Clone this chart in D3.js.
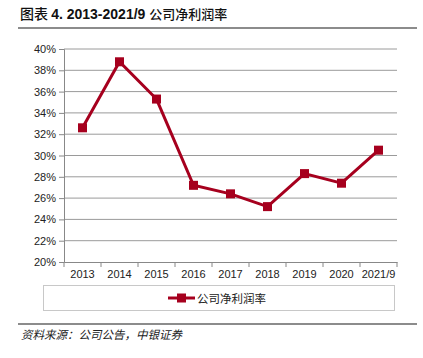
<!DOCTYPE html>
<html>
<head>
<meta charset="utf-8">
<script src="https://cdn.jsdelivr.net/npm/d3@7"></script>
<style>
  body { margin: 0; background: #fff; }
  svg { display: block; font-family: "Liberation Sans", Arial, sans-serif; }
</style>
</head>
<body>
<svg id="chart" width="423" height="358"></svg>
<script>
const years = ["2013", "2014", "2015", "2016", "2017", "2018", "2019", "2020", "2021/9"];
const netMargin = [32.6, 38.8, 35.3, 27.2, 26.4, 25.2, 28.3, 27.4, 30.5];
const yTicks = [20, 22, 24, 26, 28, 30, 32, 34, 36, 38, 40];

const svg = d3.select("#chart");
const red = "#A6001E";
const cjk = "'Noto Sans CJK SC', sans-serif";

// title
svg.append("text")
  .attr("x", 20).attr("y", 19)
  .attr("font-size", 14).attr("fill", "#111")
  .call(t => {
    t.append("tspan").attr("font-family", cjk).attr("font-weight", "500").text("图表 ");
    t.append("tspan").attr("font-weight", "bold").text("4. 2013-2021/9 ");
    t.append("tspan").attr("font-family", cjk).attr("font-weight", "500").attr("font-size", 13).text("公司净利润率");
  });

svg.append("line")
  .attr("x1", 18).attr("x2", 417).attr("y1", 28).attr("y2", 28)
  .attr("stroke", "#8c8c8c").attr("stroke-width", 2);

const x = d3.scaleBand().domain(years).range([64, 397]);
const y = d3.scaleLinear().domain([20, 40]).range([262, 49]);

// gridlines
svg.append("g")
  .selectAll("line")
  .data(yTicks.slice(1))
  .join("line")
  .attr("x1", 64).attr("x2", 397)
  .attr("y1", d => y(d)).attr("y2", d => y(d))
  .attr("stroke", "#9a9a9a").attr("stroke-width", 1);

const yAxis = svg.append("g")
  .attr("transform", "translate(64,0)")
  .call(d3.axisLeft(y).tickValues(yTicks).tickFormat(d => d + "%").tickSize(5).tickPadding(3));
yAxis.select(".domain").attr("stroke", "#888");
yAxis.selectAll(".tick line").attr("stroke", "#888");
yAxis.selectAll("text").attr("font-size", 11).attr("fill", "#222")
  .attr("font-family", "'Liberation Sans', Arial, sans-serif");

const xAxis = svg.append("g")
  .attr("transform", "translate(0,262)")
  .call(d3.axisBottom(x).tickSize(0).tickPadding(8));
xAxis.select(".domain").attr("stroke", "#888");
xAxis.selectAll("text").attr("font-size", 11).attr("fill", "#222")
  .attr("font-family", "'Liberation Sans', Arial, sans-serif");
// tick marks between categories
svg.append("g")
  .selectAll("line")
  .data(years.concat(["end"]))
  .join("line")
  .attr("x1", (d, i) => 64 + i * x.step()).attr("x2", (d, i) => 64 + i * x.step())
  .attr("y1", 262).attr("y2", 267)
  .attr("stroke", "#888");

// series line
const pts = years.map((d, i) => [x(d) + x.bandwidth() / 2, y(netMargin[i])]);
svg.append("path")
  .attr("d", d3.line()(pts))
  .attr("fill", "none").attr("stroke", red).attr("stroke-width", 3);

svg.append("g")
  .selectAll("rect")
  .data(pts)
  .join("rect")
  .attr("x", d => d[0] - 4.5).attr("y", d => d[1] - 4.5)
  .attr("width", 9).attr("height", 9)
  .attr("fill", red);

// legend
svg.append("rect")
  .attr("x", 43.5).attr("y", 285.5).attr("width", 351).attr("height", 25)
  .attr("fill", "none").attr("stroke", "#c8c8c8");
svg.append("line")
  .attr("x1", 168).attr("x2", 195).attr("y1", 298).attr("y2", 298)
  .attr("stroke", red).attr("stroke-width", 3);
svg.append("rect")
  .attr("x", 177).attr("y", 293.5).attr("width", 9).attr("height", 9).attr("fill", red);
svg.append("text")
  .attr("x", 197).attr("y", 302.5)
  .attr("font-size", 11.5).attr("font-family", cjk).attr("fill", "#222")
  .text("公司净利润率");

// source
svg.append("line")
  .attr("x1", 18).attr("x2", 417).attr("y1", 324).attr("y2", 324)
  .attr("stroke", "#8c8c8c").attr("stroke-width", 2);
svg.append("text")
  .attr("x", 21).attr("y", 339)
  .attr("font-size", 11.5).attr("font-family", cjk).attr("font-style", "italic").attr("fill", "#222")
  .text("资料来源：公司公告，中银证券");
</script>
</body>
</html>
